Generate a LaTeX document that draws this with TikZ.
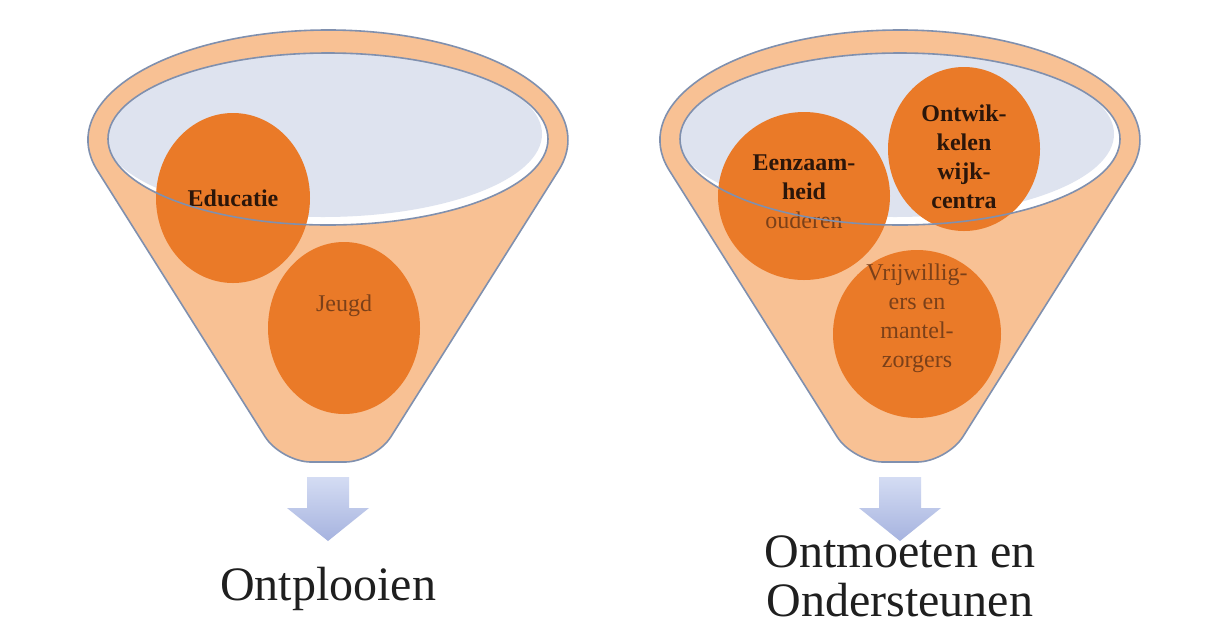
\documentclass[tikz,border=0pt]{standalone}
\usepackage{fontspec}
\setmainfont{Liberation Serif}
\usetikzlibrary{shapes.geometric,positioning,calc}
\definecolor{funnelpeach}{HTML}{F8C194}
\definecolor{rimline}{HTML}{8090AE}
\definecolor{bowlblue}{HTML}{DEE3EF}
\definecolor{ballorange}{HTML}{EA7A28}
\definecolor{arrowtop}{HTML}{D4DCF3}
\definecolor{arrowbot}{HTML}{A6B3DF}
\definecolor{darktext}{HTML}{2B160A}
\definecolor{lighttext}{HTML}{7B4019}
\tikzset{
  funnelbody/.style={draw=rimline, line width=0.8pt, fill=funnelpeach},
  bowlrim/.style   ={draw=rimline, line width=0.8pt},
  ball/.style      ={ellipse, fill=ballorange, inner sep=0pt},
  dtxt/.style      ={text=darktext, font=\fontsize{12}{14.5}\selectfont\bfseries,
                     align=center, inner sep=0pt},
  ltxt/.style      ={text=lighttext, font=\fontsize{12}{14.5}\selectfont,
                     align=center, inner sep=0pt},
  dnarrow/.style   ={top color=arrowtop, bottom color=arrowbot},
  caption/.style   ={font=\fontsize{24}{24.5}\selectfont, align=center,
                     inner sep=0pt, text=black!88}
}
\begin{document}
\begin{tikzpicture}[x=0.5pt, y=-0.5pt]
\fill[white] (0,0) rectangle (1221,639);
% funnel bodies and bowls
\foreach \cx in {328,900}{
  \draw[funnelbody] ({\cx-231.3},169.4)
    arc[start angle=164.5, end angle=375.5, x radius=240, y radius=110]
    [rounded corners=15pt] -- ({\cx+47},462) -- ({\cx-47},462) [sharp corners] -- cycle;
  \fill[white] (\cx,139) ellipse[x radius=220, y radius=86];
  \begin{scope}
    \clip (\cx,139) ellipse[x radius=220, y radius=86];
    \fill[bowlblue] ({\cx-5},134) ellipse[x radius=219, y radius=83];
  \end{scope}
}
% left funnel
\node[ball, minimum width=77pt, minimum height=85pt,
      label={[dtxt]center:Educatie}] (edu) at (233,198) {};
\node[ball, minimum width=76pt, minimum height=86pt,
      label={[ltxt, yshift=11pt]center:Jeugd}] (jeugd) at (344,328) {};
% right funnel
\node[ball, minimum width=86pt, minimum height=84pt,
      label={[dtxt, yshift=2pt]center:{Eenzaam-\\heid\\{\mdseries\color{lighttext}ouderen}}}]
      (eenz) at (804,196) {};
\node[ball, minimum width=76pt, minimum height=82pt,
      label={[dtxt, yshift=-4pt]center:{Ontwik-\\kelen\\wijk-\\centra}}]
      (ontw) at (964,149) {};
\node[ball, minimum width=84pt, minimum height=84pt,
      label={[ltxt, yshift=8pt]center:{Vrijwillig-\\ers en\\mantel-\\zorgers}}]
      (vrijw) at (917,334) {};
% front rims
\foreach \cx in {328,900}
  \draw[bowlrim] (\cx,139) ellipse[x radius=220, y radius=86];
% arrows
\foreach \cx in {328,900}
  \shade[dnarrow] ({\cx-21},477) -- ({\cx+21},477) -- ({\cx+21},508) -- ({\cx+41},508)
    -- (\cx,541) -- ({\cx-41},508) -- ({\cx-21},508) -- cycle;
\node[caption, anchor=base] (ontpl) at (328,600) {Ontplooien};
\node[caption, anchor=north] (ontm) at (900,535) {Ontmoeten en\\Ondersteunen};
\end{tikzpicture}
\end{document}
